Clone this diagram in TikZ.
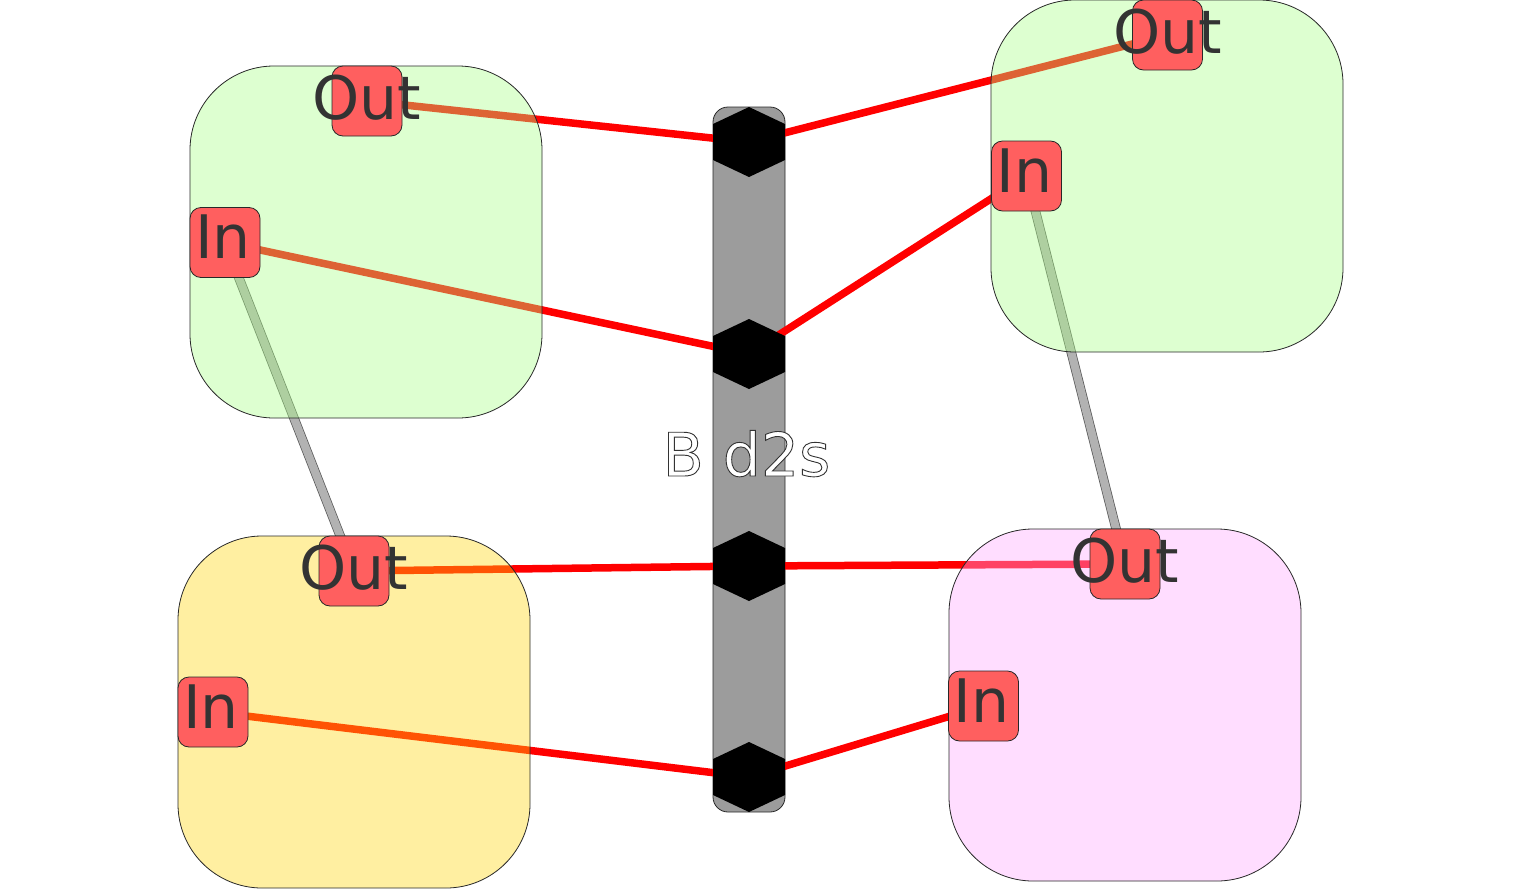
\documentclass[tikz,border=0pt]{standalone}
\usepackage{fontspec}
\setmainfont{DejaVu Sans}
\definecolor{wirered}{RGB}{255,0,0}
\definecolor{linkgrey}{RGB}{178,178,178}
\definecolor{linkedge}{RGB}{90,90,90}
\definecolor{portred}{RGB}{255,95,95}
\definecolor{txtgrey}{RGB}{51,51,51}
\definecolor{busgrey}{RGB}{156,156,156}
\definecolor{gfill}{RGB}{168,255,134}
\definecolor{yfill}{RGB}{255,214,12}
\definecolor{pfill}{RGB}{255,168,255}
\definecolor{edgecol}{RGB}{40,40,40}
\tikzset{
  box/.style={draw=edgecol, line width=0.8pt, rounded corners=84pt, minimum width=352pt, minimum height=352pt, inner sep=0pt, fill opacity=0.39},
  port/.style={draw=edgecol, line width=0.8pt, fill=portred, rounded corners=11pt, minimum width=70pt, minimum height=70pt, inner sep=0pt},
  ptext/.style={anchor=base, text=txtgrey, inner sep=0pt, font=\fontsize{60}{72}\selectfont},
  wireline/.style={draw=wirered, line width=7.5pt},
  linkouter/.style={draw=linkedge, line width=9.5pt},
  linkinner/.style={draw=linkgrey, line width=8pt},
  busbox/.style={draw=edgecol, line width=0.8pt, fill=busgrey, rounded corners=15pt, minimum width=72pt, minimum height=705pt, inner sep=0pt},
  hexa/.style={fill=black},
}
\begin{document}
\begin{tikzpicture}[x=1pt,y=-1pt]
\useasboundingbox (0,0) rectangle (1521,889);
% bus
\node[busbox] (bus) at (749,459.5) {};
\coordinate (h1) at (749,142);
\coordinate (h2) at (749,354);
\coordinate (h3) at (749,566);
\coordinate (h4) at (749,777);
% port positions
\coordinate (o1) at (367,101);
\coordinate (i1) at (225,242.5);
\coordinate (o2) at (354,571);
\coordinate (i2) at (213,712);
\coordinate (o3) at (1167.5,35);
\coordinate (i3) at (1026.5,176);
\coordinate (o4) at (1125,564);
\coordinate (i4) at (983.5,706);
% links
\draw[linkouter] (i1) -- (o2);
\draw[linkinner] (i1) -- (o2);
\draw[linkouter] (i3) -- (o4);
\draw[linkinner] (i3) -- (o4);
% wires
\draw[wireline] (o1) -- (h1);
\draw[wireline] (i1) -- (h2);
\draw[wireline] (h1) -- (o3);
\draw[wireline] (h2) -- (i3);
\draw[wireline] (o2) -- (h3);
\draw[wireline] (i2) -- (h4);
\draw[wireline] (h3) -- (o4);
\draw[wireline] (h4) -- (i4);
% containers
\node[box, fill=gfill] (c1) at (366,242) {};
\node[box, fill=yfill] (c2) at (354,712) {};
\node[box, fill=gfill] (c3) at (1167,176) {};
\node[box, fill=pfill] (c4) at (1125,705) {};
% ports
\node[port] (p1o) at (o1) {};
\node[port] (p1i) at (i1) {};
\node[port] (p2o) at (o2) {};
\node[port] (p2i) at (i2) {};
\node[port] (p3o) at (o3) {};
\node[port] (p3i) at (i3) {};
\node[port] (p4o) at (o4) {};
\node[port] (p4i) at (i4) {};
\node[ptext] (t1o) at ([yshift=-18pt]p1o.center) {Out};
\node[ptext] (t1i) at ([xshift=-2pt,yshift=-16pt]p1i.center) {In};
\node[ptext] (t2o) at ([yshift=-18pt]p2o.center) {Out};
\node[ptext] (t2i) at ([xshift=-2pt,yshift=-16pt]p2i.center) {In};
\node[ptext] (t3o) at ([yshift=-18pt]p3o.center) {Out};
\node[ptext] (t3i) at ([xshift=-2pt,yshift=-16pt]p3i.center) {In};
\node[ptext] (t4o) at ([yshift=-18pt]p4o.center) {Out};
\node[ptext] (t4i) at ([xshift=-2pt,yshift=-16pt]p4i.center) {In};
% hexagons
\foreach \h in {h1,h2,h3,h4}{
  \fill[hexa, shift={(\h)}] (0,-35) -- (36,-18) -- (36,18) -- (0,35) -- (-36,18) -- (-36,-18) -- cycle;
}
% bus label
\node[anchor=base, inner sep=0pt, text=white, font=\fontsize{60}{72}\selectfont] (buslabel) at (746.5,476) {\special{pdf:literal direct 2 Tr 0.9 w 0.2 0.2 0.2 RG}B d2s\special{pdf:literal direct 0 Tr}};
\end{tikzpicture}
\end{document}
